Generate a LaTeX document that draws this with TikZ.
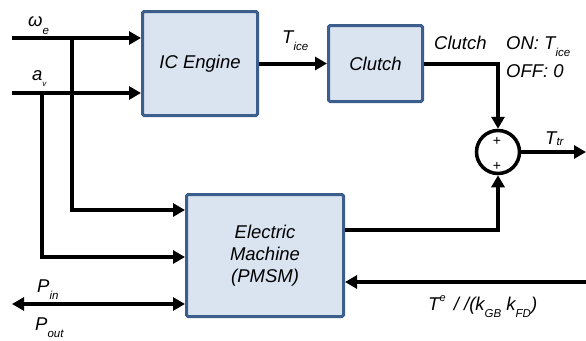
\documentclass[tikz,border=0pt]{standalone}
\usepackage{fontspec}
\setmainfont{Liberation Sans}
\usetikzlibrary{arrows.meta}
\definecolor{boxfill}{HTML}{DAE4F1}
\definecolor{boxline}{HTML}{3B5E8C}
% lowered subscript and raised superscript in the diagram labels
\newcommand\lsub[1]{\raisebox{-7.5pt}{\fontsize{11.5}{11.5}\selectfont #1}}
\newcommand\ssub[1]{\raisebox{-1.5pt}{\fontsize{11.5}{11.5}\selectfont #1}}
\newcommand\tinysub[1]{\raisebox{-6pt}{\fontsize{8}{8}\selectfont #1}}
\newcommand\hsup[1]{\raisebox{9pt}{\fontsize{11}{11}\selectfont #1}}
\begin{document}
\begin{tikzpicture}[x=1pt,y=-1pt,
  font=\fontsize{18.5}{22}\selectfont\itshape,
  block/.style={draw=boxline,fill=boxfill,line width=3pt,rounded corners=1.5pt,inner sep=0pt,align=center},
  sig/.style={line width=4pt,-{Triangle[length=12pt,width=13pt]}},
  lbl/.style={inner sep=0pt}]
\useasboundingbox (0,0) rectangle (586,340);

% blocks
\node[block,minimum width=115pt,minimum height=104pt] (ice) at (200,63.5) {IC Engine};
\node[block,minimum width=94pt,minimum height=76pt] (clutch) at (375.5,63.5) {Clutch};
\node[block,minimum width=157pt,minimum height=122pt] (em) at (265,255.5) {Electric\\Machine\\(PMSM)};
\node[draw,line width=3.5pt,circle,minimum size=43pt,inner sep=0pt] (sum) at (498,152) {};
\node[lbl,font=\fontsize{14}{14}\selectfont] (plus1) at (497,141) {+};
\node[lbl,font=\fontsize{14}{14}\selectfont] (plus2) at (497,166) {+};

% free ends
\coordinate (w0) at (12,38);
\coordinate (a0) at (12,93);
\coordinate (jw) at (72,38);
\coordinate (ja) at (42,93);
\coordinate (tout) at (586,152);
\coordinate (tin) at (586,282);
\coordinate (p0) at (12,304);

% connectors
\draw[sig] (w0) -- (w0 -| ice.west);
\draw[sig] (a0) -- (a0 -| ice.west);
\draw[sig] (jw) |- ([yshift=45.5pt]em.west);
\draw[sig] (ja) |- ([yshift=-1.5pt]em.west);
\draw[line width=4pt,{Triangle[length=12pt,width=13pt]}-{Triangle[length=12pt,width=13pt]}] (p0) -- (p0 -| em.west);
\draw[sig] (ice.east) -- (clutch.west);
\draw[sig] (clutch.east) -| (sum.north);
\draw[sig] ([yshift=25.5pt]em.east) -| (sum.south);
\draw[sig] (sum.east) -- (tout);
\draw[sig] (tin) -- (tin -| em.east);

% labels
\node[lbl,anchor=base west] (lw) at (28,27) {ω\lsub{e}};
\node[lbl,anchor=base west] (la) at (32,80) {a\tinysub{v}};
\node[lbl,anchor=base west] (lt) at (282,43) {T\lsub{ice}};
\node[lbl,anchor=base west] (lc) at (434,49) {Clutch};
\node[lbl,anchor=base west] (lon) at (506,49) {ON: T\lsub{ice}};
\node[lbl,anchor=base west] (loff) at (506,77) {OFF: 0};
\node[lbl,anchor=base west] (ltr) at (545,144) {T\ssub{tr}};
\node[lbl,anchor=base west] (lpin) at (37,292) {P\lsub{in}};
\node[lbl,anchor=base west] (lpout) at (35,330) {P\lsub{out}};
\node[lbl,anchor=base west] (lte) at (428,310) {T\hsup{e}\, / /(k\lsub{GB} k\lsub{FD})};
\end{tikzpicture}
\end{document}
